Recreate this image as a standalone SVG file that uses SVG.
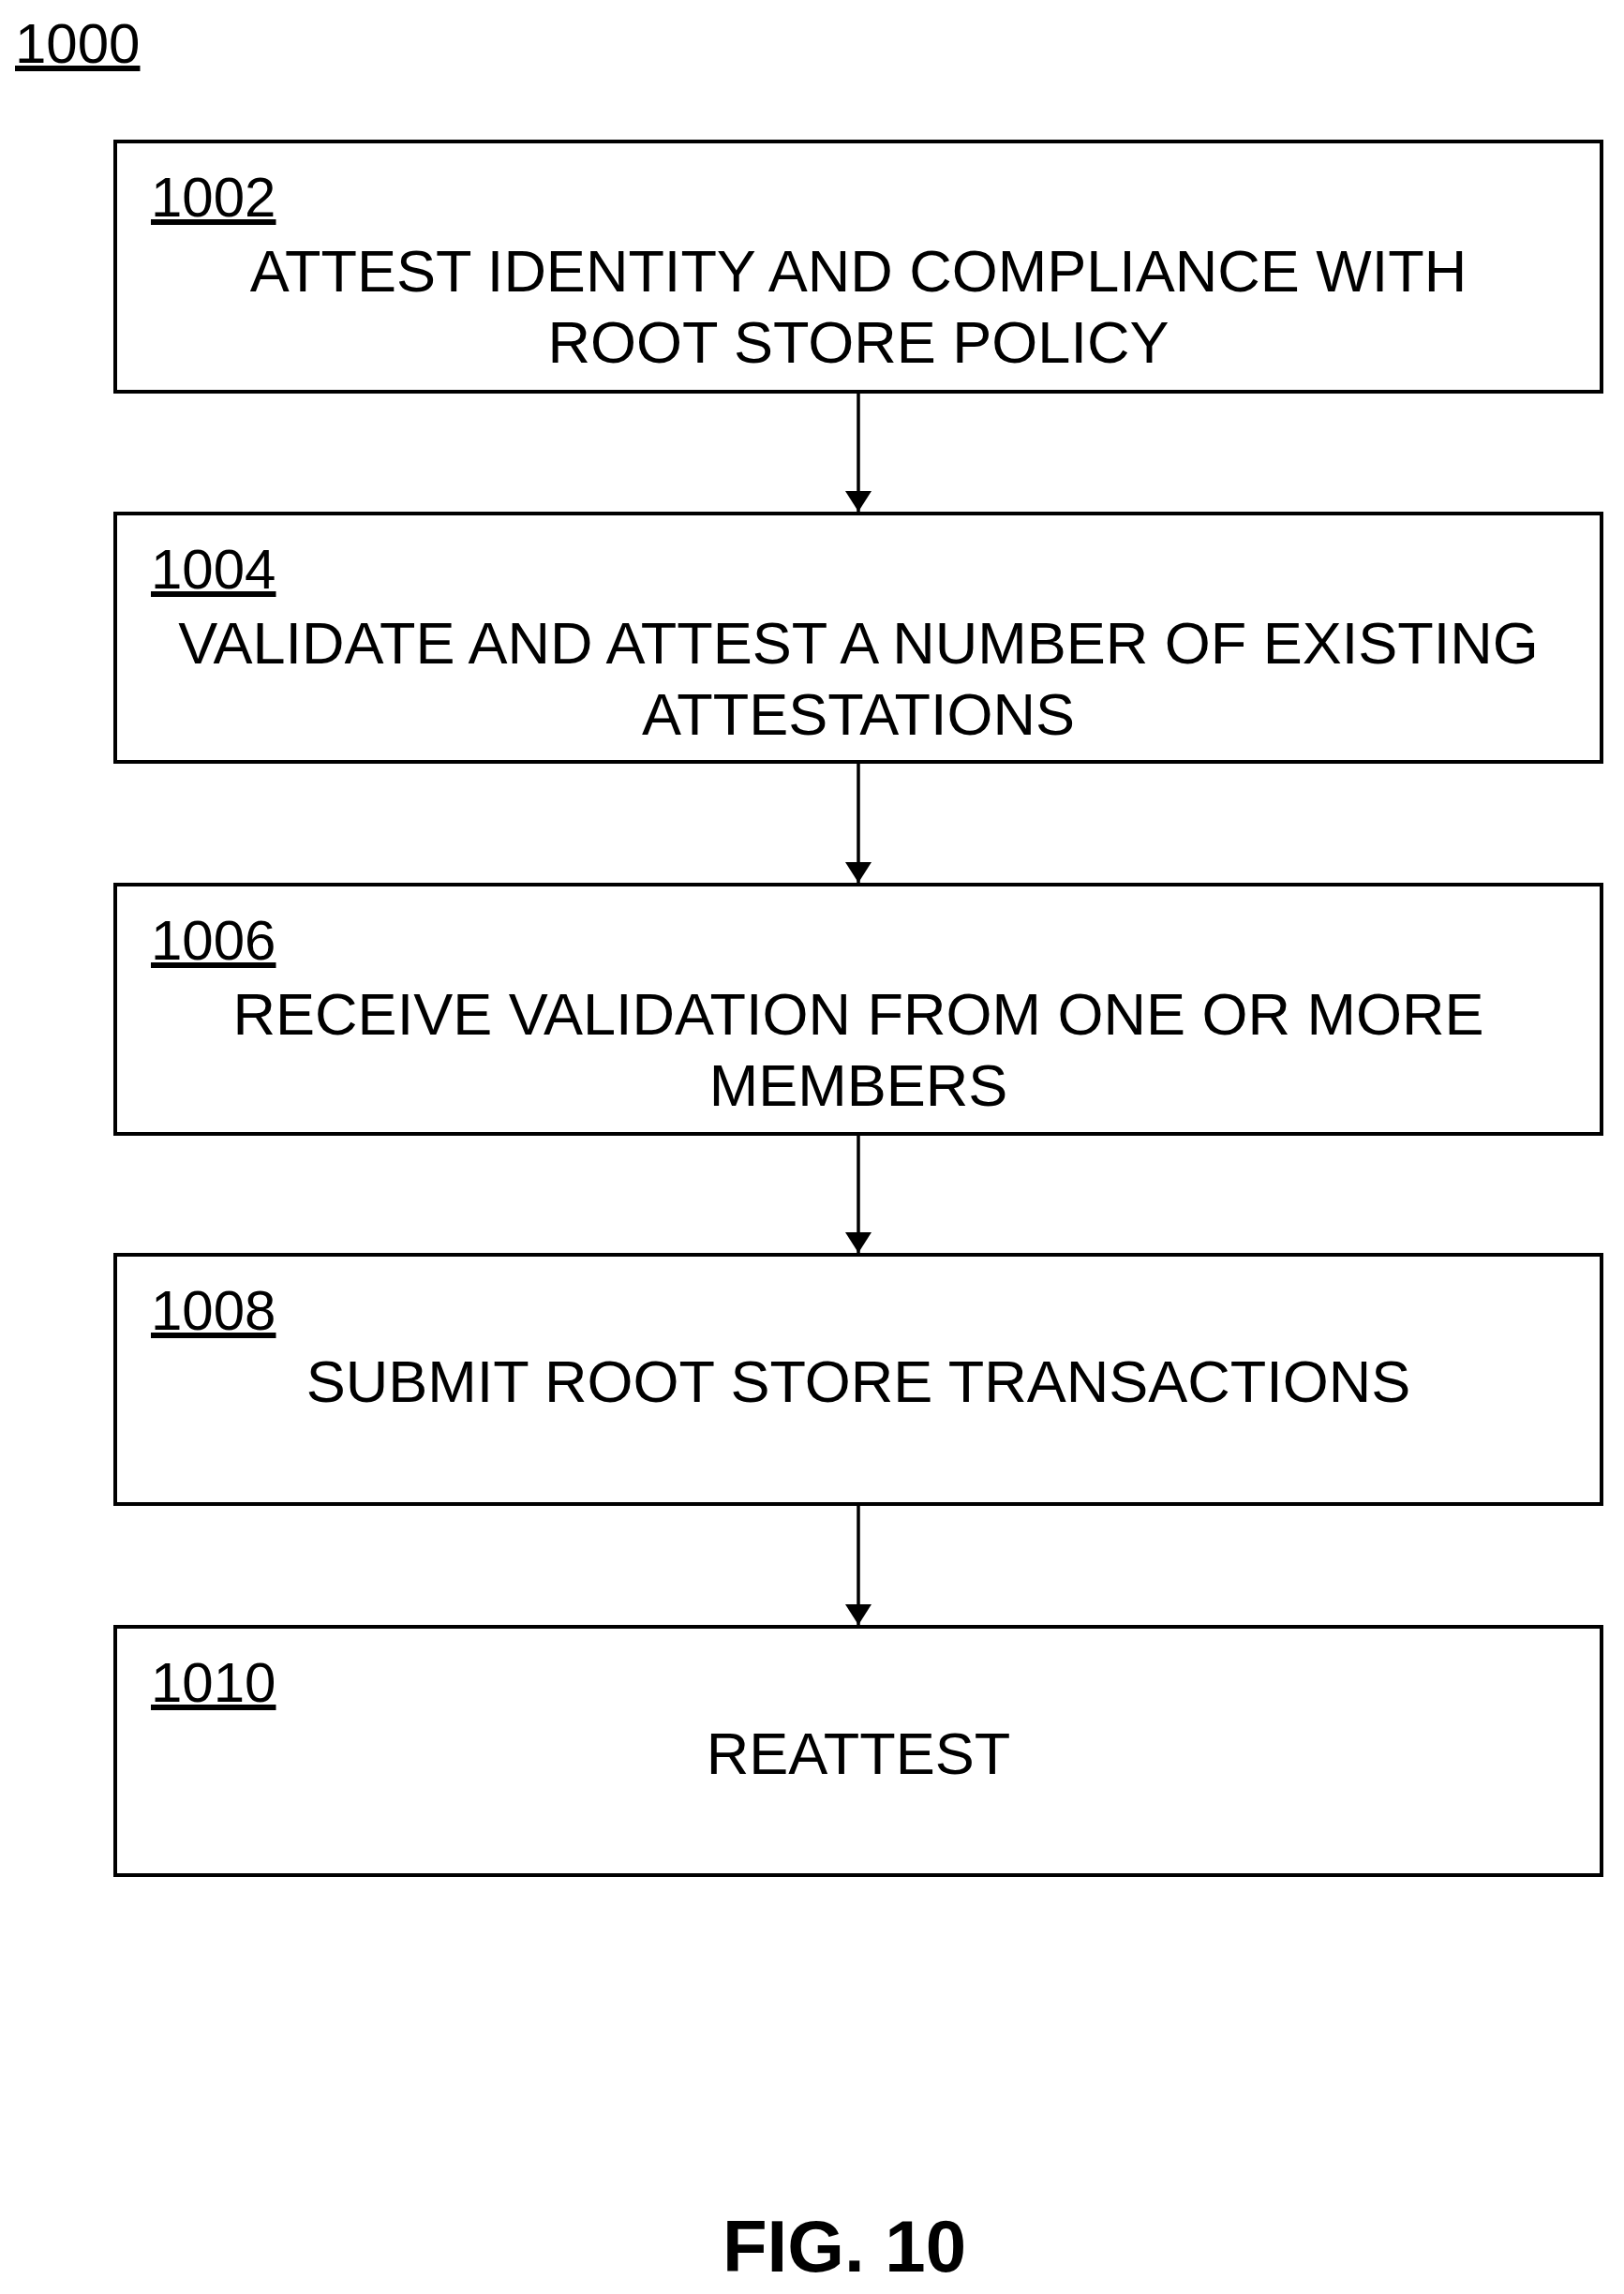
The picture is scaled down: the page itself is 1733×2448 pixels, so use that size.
<svg xmlns="http://www.w3.org/2000/svg" width="1733" height="2448" viewBox="0 0 1733 2448">
<style>
text{font-family:"Liberation Sans",Arial,sans-serif;fill:#000}
.box{fill:#fff;stroke:#000;stroke-width:4}
.lbl{font-size:60px;text-decoration:underline}
.t{font-size:63px;text-anchor:middle}
</style>
<defs>
<marker id="ah2" viewBox="0 0 22 28" markerWidth="22" markerHeight="28" refX="22" refY="14" orient="auto" markerUnits="userSpaceOnUse"><path d="M0,0 L22,14 L0,28 z" fill="#000"/></marker></defs>
<rect width="1733" height="2448" fill="#fff"/>
<text x="16" y="67" class="lbl">1000</text>
<g id="n1002"><rect class="box" x="123" y="151" width="1586" height="267"/><text x="161" y="231" class="lbl">1002</text><text x="916" y="311" class="t">ATTEST IDENTITY AND COMPLIANCE WITH</text><text x="916" y="387" class="t">ROOT STORE POLICY</text></g>
<g id="n1004"><rect class="box" x="123" y="548" width="1586" height="265"/><text x="161" y="628" class="lbl">1004</text><text x="916" y="708" class="t">VALIDATE AND ATTEST A NUMBER OF EXISTING</text><text x="916" y="784" class="t">ATTESTATIONS</text></g>
<g id="n1006"><rect class="box" x="123" y="944" width="1586" height="266"/><text x="161" y="1024" class="lbl">1006</text><text x="916" y="1104" class="t">RECEIVE VALIDATION FROM ONE OR MORE</text><text x="916" y="1180" class="t">MEMBERS</text></g>
<g id="n1008"><rect class="box" x="123" y="1339" width="1586" height="266"/><text x="161" y="1419" class="lbl">1008</text><text x="916" y="1496" class="t">SUBMIT ROOT STORE TRANSACTIONS</text></g>
<g id="n1010"><rect class="box" x="123" y="1736" width="1586" height="265"/><text x="161" y="1816" class="lbl">1010</text><text x="916" y="1893" class="t">REATTEST</text></g>
<g id="connectors" stroke="#000" stroke-width="3.5" fill="none">
<path d="M916,420 V546" marker-end="url(#ah2)"/>
<path d="M916,815 V942" marker-end="url(#ah2)"/>
<path d="M916,1212 V1337" marker-end="url(#ah2)"/>
<path d="M916,1607 V1734" marker-end="url(#ah2)"/>
</g>
<text x="901" y="2424" font-size="78" font-weight="bold" text-anchor="middle">FIG. 10</text>
</svg>
